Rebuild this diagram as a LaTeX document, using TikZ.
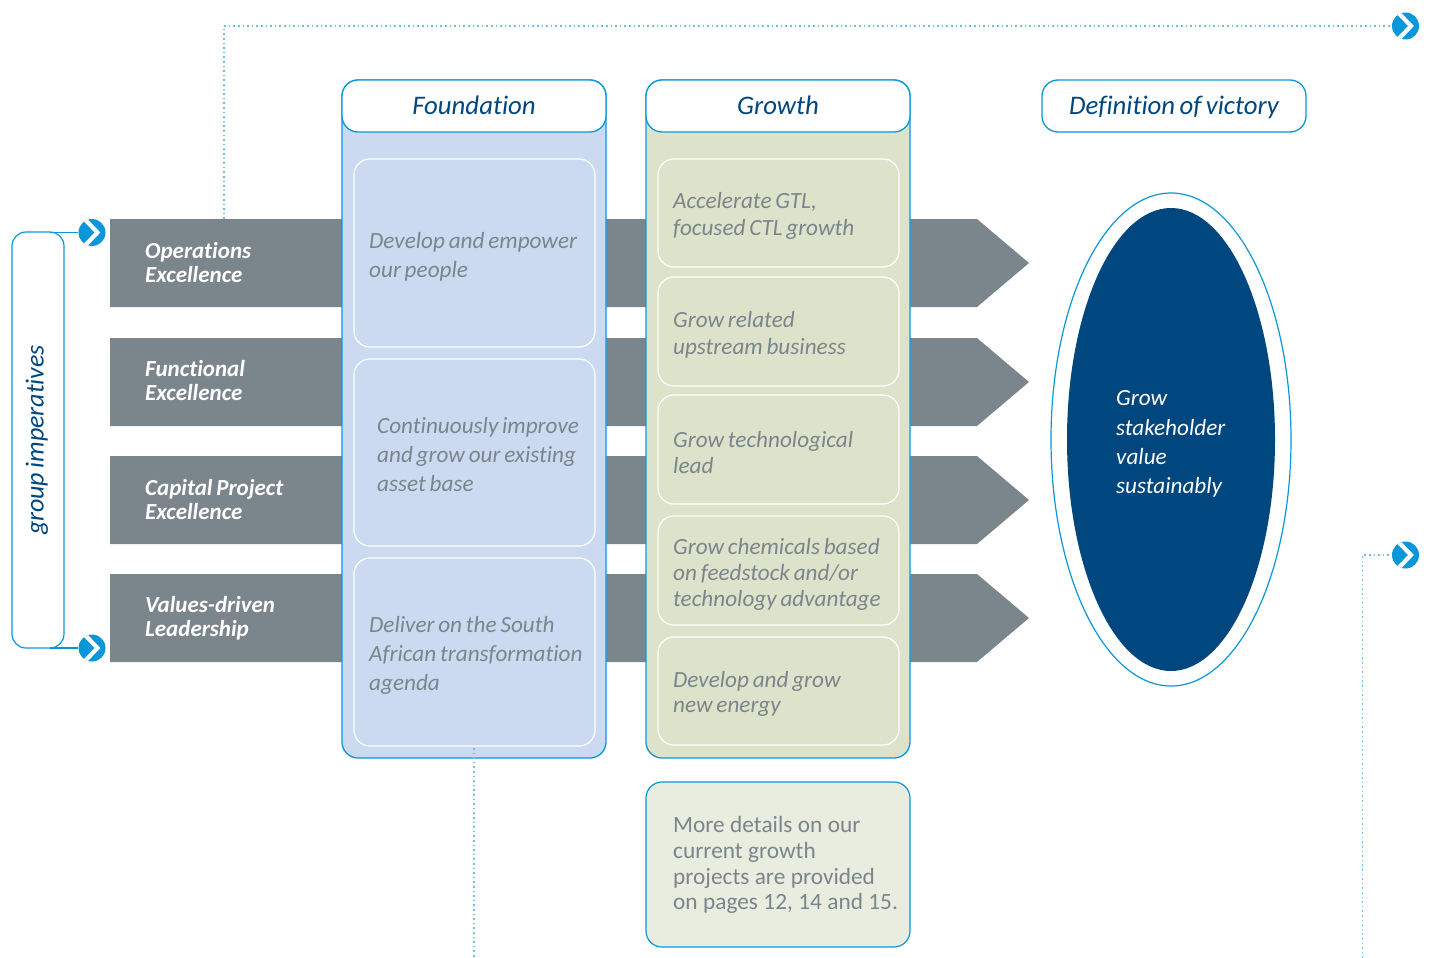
\documentclass[tikz,border=0pt]{standalone}
\usepackage{fontspec}
\setmainfont[WordSpace=0.72,Ligatures=NoCommon]{Carlito}
\newfontfamily\detailfont[WordSpace=1.03,Ligatures=NoCommon]{Carlito}
\usetikzlibrary{shapes.geometric}
\definecolor{cyanb}{HTML}{0A97D9}
\definecolor{dots}{HTML}{6CC0E8}
\definecolor{navy}{HTML}{00467F}
\definecolor{slate}{HTML}{7A858C}
\definecolor{paleblue}{HTML}{CCDAF1}
\definecolor{palegreen}{HTML}{DDE3CB}
\definecolor{palergreen}{HTML}{E9EDDF}
\tikzset{
 x=1pt,y=-1pt,
 column/.style={draw=cyanb,line width=1.3pt,rounded corners=16pt,anchor=north west,minimum width=264pt,inner sep=0pt,outer sep=0pt},
 header/.style={draw=cyanb,fill=white,line width=1.3pt,rounded corners=16pt,minimum width=264pt,minimum height=52pt,inner sep=0pt,outer sep=0pt,text=navy,text height=23pt,text depth=7pt,font=\fontsize{26.8}{30}\selectfont\itshape},
 inbox/.style={draw=white,line width=1.2pt,rounded corners=16pt,minimum width=241pt,inner sep=0pt,outer sep=0pt,anchor=west},
 intext/.style={anchor=west,align=flush left,inner sep=0pt,text=slate,font=\fontsize{23.2}{#1}\selectfont\itshape},
 intext/.default=29,
 barlabel/.style={text=white,anchor=west,align=flush left,inner sep=0pt,font=\fontsize{23}{24}\selectfont\bfseries\itshape},
 bararrow/.style={fill=slate},
 goicon/.style={circle,fill=cyanb,minimum size=27pt,inner sep=0pt,
   path picture={\draw[white,line width=4.2pt,miter limit=10] ([shift={(-7pt,-13pt)}]path picture bounding box.center) -- ([shift={(5.5pt,0pt)}]path picture bounding box.center) -- ([shift={(-7pt,13pt)}]path picture bounding box.center);}},
 dotline/.style={dots,line width=1.6pt,dash pattern=on 1.6pt off 3pt},
 solidline/.style={cyanb,line width=1.2pt},
}
\begin{document}
\begin{tikzpicture}
\useasboundingbox (0,0) rectangle (1430,958);
% chevron bars
\foreach \t/\b in {219/307,338/426,456/544,574/662}{
  \path[bararrow] (110,\t) -- (977,\t) -- (1029,{(\t+\b)/2}) -- (977,\b) -- (110,\b) -- cycle;
}
\node[barlabel] (l1) at (145,263) {Operations\\Excellence};
\node[barlabel] (l2) at (145,381) {Functional\\Excellence};
\node[barlabel] (l3) at (145,500) {Capital Project\\Excellence};
\node[barlabel] (l4) at (145,618) {Values-driven\\Leadership};
% columns
\node[column,fill=paleblue,minimum height=678pt] (fcol) at (342,80) {};
\node[column,fill=palegreen,minimum height=678pt] (gcol) at (646,80) {};
\node[header] (fh) at (474,106) {Foundation};
\node[header] (gh) at (778,106) {Growth};
\node[header] (dh) at (1174,106) {Definition of victory};
% foundation boxes
\node[inbox,minimum height=188pt] (f1) at (354,253) {};
\node[inbox,minimum height=187pt] (f2) at (354,452.5) {};
\node[inbox,minimum height=188pt] (f3) at (354,652) {};
\node[intext] (f1t) at (369,257) {Develop and empower\\our people};
\node[intext] (f2t) at (377,455) {Continuously improve\\and grow our existing\\asset base};
\node[intext] (f3t) at (369,655) {Deliver on the South\\African transformation\\agenda};
% growth boxes
\node[inbox,minimum height=108pt] (g1) at (658,213) {};
\node[inbox,minimum height=109pt] (g2) at (658,331.5) {};
\node[inbox,minimum height=109pt] (g3) at (658,449.5) {};
\node[inbox,minimum height=109pt] (g4) at (658,570.5) {};
\node[inbox,minimum height=108pt] (g5) at (658,691) {};
\node[intext=27] (g1t) at (673,216) {Accelerate GTL,\\focused CTL growth};
\node[intext=27] (g2t) at (673,335) {Grow related\\upstream business};
\node[intext=26.5] (g3t) at (673,452.5) {Grow technological\\lead};
\node[intext=26] (g4t) at (673,574) {Grow chemicals based\\on feedstock and/or\\technology advantage};
\node[intext=25.5] (g5t) at (673,694) {Develop and grow\\new energy};
% details
\node[draw=cyanb,line width=1.2pt,fill=palergreen,rounded corners=16pt,minimum width=264pt,minimum height=165pt,anchor=west,inner sep=0pt,outer sep=0pt] (det) at (646,864.5) {};
\node[anchor=west,align=flush left,inner sep=0pt,text=slate,font=\detailfont\fontsize{23.3}{25.9}\selectfont] (dett) at (673,865) {More details on our\\current growth\\projects are provided\\on pages 12, 14 and 15.};
% ellipse
\node[ellipse,draw=cyanb,line width=1.2pt,fill=white,minimum width=240pt,minimum height=493pt,inner sep=0pt] (oe) at (1171,439.5) {};
\node[ellipse,fill=navy,minimum width=208pt,minimum height=463pt,inner sep=0pt] (ie) at (1171,439.5) {};
\node[anchor=west,align=flush left,text=white,inner sep=0pt,font=\fontsize{23.2}{29.3}\selectfont\itshape] (iet) at (1116,444) {Grow\\stakeholder\\value\\sustainably};
% group imperatives
\node[draw=cyanb,line width=1.2pt,rounded corners=14pt,minimum width=52pt,minimum height=416pt,inner sep=0pt,outer sep=0pt] (gi) at (38,440) {};
\node[rotate=90,text=navy,inner sep=0pt,font=\fontsize{26}{30}\selectfont\itshape] (git) at (37,440) {group imperatives};
% icons
\node[goicon] (i1) at (92,232.5) {};
\node[goicon] (i2) at (92,648) {};
\node[goicon] (i3) at (1405.5,26) {};
\node[goicon] (i4) at (1405.5,555) {};
% connectors
\coordinate (c1) at (224,219);
\coordinate (c2) at (1362.5,958);
\coordinate (c3) at (474,958);
\draw[solidline] (50,232.5) -- (i1.west);
\draw[solidline] (50,648) -- (i2.west);
\draw[dotline] (c1) |- (i3.west);
\draw[dotline] (c2) |- (i4.west);
\draw[dotline] (474,748) -- (c3);
\end{tikzpicture}
\end{document}
